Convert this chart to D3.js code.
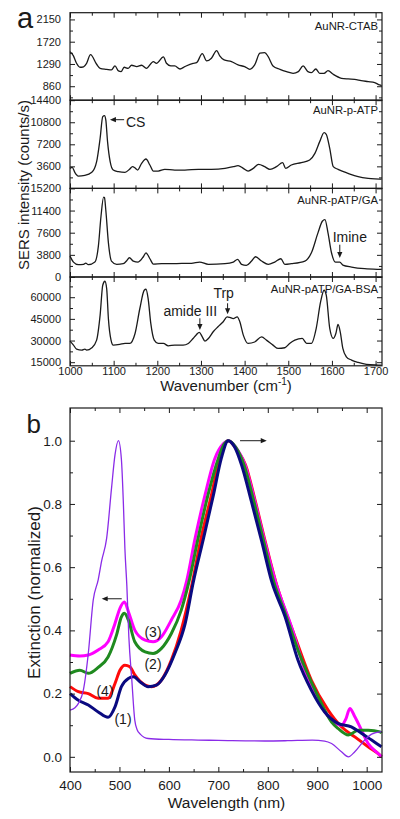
<!DOCTYPE html>
<html><head><meta charset="utf-8">
<script src="https://cdn.jsdelivr.net/npm/d3@7"></script>
<style>
html,body{margin:0;padding:0;background:#fff;}
svg{display:block;font-family:Arial,"Liberation Sans",sans-serif;}
</style></head><body>
<svg id="chart" width="400" height="819"></svg>
<script>
// ---------------- DATA ----------------
// Panel a: SERS spectra [wavenumber cm-1, intensity counts/s]
const spectraNames = ["AuNR-CTAB","AuNR-p-ATP","AuNR-pATP/GA","AuNR-pATP/GA-BSA"];
const wavenumberTicks = [1000,1100,1200,1300,1400,1500,1600,1700];

const ctab = [[1000,1528],[1007.6,1450],[1015,1303],[1023,1226],[1031,1236],[1038,1303],[1047,1470],[1061,1284],[1069,1206],[1084,1187],[1095,1174],[1103,1252],[1111,1155],[1117,1142],[1124,1226],[1133,1206],[1141,1265],[1153,1239],[1164,1265],[1175,1206],[1191,1335],[1198,1303],[1214,1426],[1221,1303],[1231,1252],[1240,1252],[1252,1193],[1263,1239],[1282,1303],[1290,1316],[1303,1490],[1313,1348],[1324,1400],[1336,1548],[1343,1445],[1353,1368],[1370,1335],[1385,1271],[1400,1239],[1412,1187],[1423,1271],[1435,1497],[1446,1510],[1454,1432],[1465,1252],[1481,1187],[1496,1142],[1511,1110],[1523,1142],[1534,1252],[1545,1142],[1553,1122],[1563,1193],[1572,1110],[1582,1110],[1591,1161],[1603,1090],[1622,1013],[1637,1000],[1652,994],[1667,968],[1683,949],[1698,930],[1709,884],[1714,870]];
const ctabTicks = [860,1290,1720,2150];

const pATP = [[1000,3273],[1005,3436],[1011,2618],[1019,2018],[1034,2127],[1050,2618],[1061,4364],[1069,8182],[1075,11727],[1079,11890],[1082,11182],[1086,7636],[1092,4364],[1099,3000],[1111,2727],[1126,2618],[1137,3164],[1143,3545],[1150,3273],[1155,3000],[1164,4091],[1174,4800],[1183,3818],[1191,2836],[1202,2836],[1217,3109],[1240,3000],[1263,3000],[1294,3109],[1324,3109],[1355,3273],[1374,3545],[1385,3709],[1397,3273],[1408,2836],[1420,3273],[1432,3927],[1446,3545],[1458,3109],[1473,3545],[1487,4200],[1494,3273],[1507,3818],[1530,4200],[1549,4636],[1561,5727],[1572,7636],[1582,9109],[1587,8836],[1595,6545],[1603,3545],[1614,3109],[1637,2455],[1660,1909],[1683,1636],[1709,1527],[1714,1500]];
const pATPTicks = [3600,7200,10800,14400];

const pATPGA = [[1000,3587],[1008,2562],[1019,2107],[1031,2164],[1036,2391],[1042,2107],[1057,2562],[1065,5294],[1071,10418],[1077,13714],[1079,13600],[1082,11500],[1088,5863],[1095,2733],[1107,2164],[1122,2278],[1130,2790],[1136,3302],[1145,2733],[1156,2562],[1168,3473],[1174,4156],[1183,3131],[1191,2221],[1210,2278],[1233,2278],[1256,2335],[1278,2335],[1297,2562],[1317,2164],[1355,2278],[1374,2562],[1384,3017],[1393,2164],[1404,1993],[1416,2733],[1425,3473],[1439,2733],[1454,2164],[1469,2562],[1483,3131],[1492,2164],[1507,2278],[1538,2733],[1553,4156],[1568,7568],[1578,9564],[1584,9848],[1591,7568],[1599,4156],[1608,2562],[1618,2562],[1625,2050],[1645,1708],[1675,1423],[1709,1310],[1714,1300]];
const pATPGATicks = [0,3800,7600,11400,15200];

const pATPGABSA = [[1000,29585],[1008,26820],[1015,24055],[1027,23364],[1034,24055],[1038,23364],[1050,25000],[1061,30276],[1069,47558],[1075,68295],[1080,71060],[1084,66000],[1088,45000],[1094,30276],[1099,26820],[1114,27290],[1126,28000],[1137,28000],[1149,34900],[1160,52189],[1170,64838],[1174,65530],[1179,59078],[1185,42000],[1193,30276],[1202,28000],[1214,28000],[1225,26359],[1240,26820],[1259,26820],[1271,28000],[1282,31428],[1290,34217],[1296,35600],[1303,32580],[1309,29585],[1317,31428],[1328,36070],[1339,39530],[1351,43000],[1360,46386],[1366,46000],[1374,45200],[1383,46386],[1389,43000],[1397,33760],[1408,28000],[1423,29000],[1439,32500],[1450,30276],[1465,26820],[1477,24500],[1492,25000],[1503,28000],[1515,30276],[1532,31428],[1542,28000],[1553,28000],[1564,38400],[1574,56750],[1582,64838],[1587,61380],[1595,38400],[1603,31428],[1609,34900],[1614,41128],[1619,36000],[1625,24500],[1633,18744],[1645,16440],[1660,14830],[1679,13450],[1706,13000],[1714,12900]];
const pATPGABSATicks = [15000,30000,45000,60000];

// Panel b: extinction spectra [wavelength nm, normalized extinction]
const wavelengthTicks = [400,500,600,700,800,900,1000];
const extinctionTicks = [0,0.2,0.4,0.6,0.8,1.0];

const violetSpec = [[400,0.148],[410,0.155],[417,0.169],[427,0.211],[437,0.327],[447,0.496],[457,0.56],[464,0.62],[474,0.69],[484,0.85],[491,0.955],[498,1.0],[504,0.94],[508,0.8],[511,0.66],[515,0.54],[519,0.38],[525,0.243],[531,0.116],[536,0.085],[542,0.072],[558,0.058],[600,0.055],[659,0.053],[700,0.052],[794,0.05],[840,0.051],[890,0.053],[915,0.05],[929,0.042],[949,0.016],[963,0.0],[976,0.016],[996,0.053],[1010,0.072],[1030,0.08]];
const spec3 = [[400,0.322],[420,0.319],[437,0.322],[457,0.338],[477,0.364],[491,0.422],[501,0.47],[510,0.49],[518,0.46],[531,0.401],[552,0.369],[568,0.364],[585,0.38],[605,0.433],[625,0.496],[636,0.557],[653,0.691],[673,0.828],[693,0.944],[710,0.99],[720,1.0],[735,0.98],[754,0.923],[774,0.807],[794,0.68],[816,0.552],[848,0.411],[875,0.274],[902,0.179],[929,0.116],[949,0.1],[958,0.12],[966,0.153],[975,0.13],[983,0.106],[1003,0.042],[1027,0.005],[1030,0.0]];
const spec2 = [[400,0.264],[420,0.274],[437,0.264],[457,0.283],[477,0.316],[494,0.385],[504,0.443],[510,0.454],[518,0.433],[531,0.364],[552,0.332],[568,0.327],[585,0.343],[605,0.39],[625,0.464],[640,0.55],[659,0.691],[679,0.828],[700,0.944],[712,0.99],[720,1.0],[735,0.98],[752,0.923],[772,0.807],[792,0.68],[812,0.554],[835,0.455],[861,0.338],[902,0.19],[929,0.11],[942,0.09],[963,0.069],[983,0.084],[1003,0.084],[1027,0.079],[1030,0.075]];
const spec4 = [[400,0.222],[417,0.206],[437,0.2],[457,0.185],[477,0.185],[491,0.232],[501,0.274],[511,0.29],[521,0.285],[531,0.259],[552,0.227],[565,0.222],[585,0.243],[605,0.306],[625,0.401],[646,0.54],[665,0.691],[686,0.828],[703,0.944],[720,1.0],[738,0.97],[755,0.923],[775,0.807],[795,0.68],[816,0.554],[855,0.38],[888,0.243],[922,0.148],[949,0.095],[976,0.063],[1003,0.032],[1027,0.005],[1030,0.0]];
const spec1 = [[400,0.2],[417,0.179],[437,0.164],[457,0.142],[477,0.125],[491,0.158],[504,0.222],[518,0.248],[528,0.253],[542,0.237],[558,0.222],[575,0.227],[592,0.259],[612,0.327],[633,0.422],[649,0.55],[670,0.691],[690,0.828],[706,0.944],[720,1.0],[733,0.98],[747,0.923],[767,0.807],[788,0.68],[808,0.554],[835,0.443],[861,0.306],[888,0.211],[915,0.142],[942,0.106],[969,0.095],[990,0.074],[1010,0.053],[1030,0.032]];

// ---------------- DRAW ----------------
const svg = d3.select("#chart");
const FONT = 'Arial,"Liberation Sans",sans-serif';
const ink = "#1a1a1a";

function arrow(g, x1, y1, x2, y2) {
  const a = Math.atan2(y2 - y1, x2 - x1), L = 6, w = 2.6;
  g.append("line").attr("x1", x1).attr("y1", y1)
    .attr("x2", x2 - L * 0.8 * Math.cos(a)).attr("y2", y2 - L * 0.8 * Math.sin(a))
    .attr("stroke", ink).attr("stroke-width", 1);
  const bx = x2 - L * Math.cos(a), by = y2 - L * Math.sin(a);
  g.append("path").attr("d",
    `M${x2},${y2}L${bx + w * Math.sin(a)},${by - w * Math.cos(a)}L${bx - w * Math.sin(a)},${by + w * Math.cos(a)}Z`)
    .attr("fill", ink);
}

function styleAxis(sel, fs) {
  sel.select(".domain").remove();
  sel.selectAll(".tick line").attr("stroke", ink).attr("stroke-width", 1);
  sel.selectAll(".tick text").attr("fill", ink).style("font-size", fs + "px").style("font-family", FONT);
}

function frame(g, x, y, o) {
  const [x0, x1] = x.range(), [yb, yt] = y.range();
  const mk = (axis, tr, vals, size, fmt, pad) => {
    const a = axis.tickValues(vals).tickSizeInner(size).tickSizeOuter(0).tickPadding(pad);
    a.tickFormat(fmt || (() => ""));
    const s = g.append("g").attr("transform", tr).call(a);
    styleAxis(s, o.fs);
    return s;
  };
  mk(d3.axisBottom(x), `translate(0,${yb})`, o.xt, -5, o.xLabels ? d3.format("d") : null, o.xPad);
  mk(d3.axisBottom(x), `translate(0,${yb})`, o.xm, -3, null, 0);
  mk(d3.axisTop(x), `translate(0,${yt})`, o.xt, -5, null, 0);
  mk(d3.axisTop(x), `translate(0,${yt})`, o.xm, -3, null, 0);
  mk(d3.axisLeft(y), `translate(${x0},0)`, o.yt, -5, o.yFmt, o.yPad);
  mk(d3.axisLeft(y), `translate(${x0},0)`, o.ym, -3, null, 0);
  mk(d3.axisRight(y), `translate(${x1},0)`, o.yt, -5, null, 0);
  mk(d3.axisRight(y), `translate(${x1},0)`, o.ym, -3, null, 0);
  g.append("rect").attr("x", x0).attr("y", yt).attr("width", x1 - x0).attr("height", yb - yt)
    .attr("fill", "none").attr("stroke", ink).attr("stroke-width", 1.2);
}

// ----- Panel a -----
const aEdges = [12.7, 100.2, 188.4, 277, 365.8];
const xA = d3.scaleLinear().domain([1000, 1714.7]).range([70, 382]);
const aSeries = [ctab, pATP, pATPGA, pATPGABSA];
const aTicks = [ctabTicks, pATPTicks, pATPGATicks, pATPGABSATicks];
const aDomains = [[590, 2280], [0, 14400], [0, 15200], [12500, 74000]];
const aMinorStep = [215, 1800, 1900, 7500];
const aScales = [];
const xMinorA = d3.range(1000, 1715, 50).filter(v => v % 100 !== 0);

aSeries.forEach((data, i) => {
  const y = d3.scaleLinear().domain(aDomains[i]).range([aEdges[i + 1], aEdges[i]]);
  aScales.push(y);
  const g = svg.append("g");
  const [d0, d1] = aDomains[i];
  const t0 = aTicks[i][0];
  const minor = d3.range(Math.ceil((d0 - t0) / aMinorStep[i]), Math.floor((d1 - t0) / aMinorStep[i]) + 1)
    .map(k => t0 + k * aMinorStep[i]).filter(v => !aTicks[i].includes(v) && v > d0 && v < d1);
  g.append("path").datum(data)
    .attr("d", d3.line().x(d => xA(d[0])).y(d => y(d[1])).curve(d3.curveMonotoneX))
    .attr("fill", "none").attr("stroke", ink).attr("stroke-width", 1.3);
  frame(g, xA, y, {
    xt: wavenumberTicks, xm: xMinorA, yt: aTicks[i], ym: minor,
    xLabels: i === 3, xPad: 1.6, yPad: 9, yFmt: d3.format("d"), fs: 11
  });
  g.append("text").attr("x", 378).attr("y", [30, 114, 204, 293][i])
    .attr("text-anchor", "end").style("font-size", "11.3px").attr("fill", ink).text(spectraNames[i]);
});

// panel a annotations (in data coordinates)
{
  const g = svg.append("g").style("font-size", "14px").attr("fill", ink);
  const y2 = aScales[1], y3 = aScales[2], y4 = aScales[3];
  g.append("text").attr("x", xA(1128)).attr("y", y2(10000)).text("CS");
  arrow(g, xA(1124), y2(11216), xA(1091.5), y2(11216));
  g.append("text").attr("x", xA(1641)).attr("y", y3(5919)).attr("text-anchor", "middle").text("Imine");
  arrow(g, xA(1618), y3(5541), xA(1618), y3(3260));
  g.append("text").attr("x", xA(1275.5)).attr("y", y4(47000)).attr("text-anchor", "middle").text("amide III");
  arrow(g, xA(1297.5), y4(45400), xA(1297.5), y4(37300));
  g.append("text").attr("x", xA(1352)).attr("y", y4(59450)).attr("text-anchor", "middle").text("Trp");
  arrow(g, xA(1361), y4(55800), xA(1361), y4(48170));
}

svg.append("text").attr("x", 17).attr("y", 28).style("font-size", "29px").attr("fill", ink).text("a");
{
  const t = svg.append("text").attr("x", 226).attr("y", 391).attr("text-anchor", "middle")
    .style("font-size", "15px").attr("fill", ink);
  t.append("tspan").text("Wavenumber (cm");
  t.append("tspan").attr("dy", -6).style("font-size", "10px").text("-1");
  t.append("tspan").attr("dy", 6).text(")");
}
svg.append("text").attr("transform", "translate(29,185) rotate(-90)").attr("text-anchor", "middle")
  .style("font-size", "15px").attr("fill", ink).text("SERS intensity (counts/s)");

// ----- Panel b -----
const xB = d3.scaleLinear().domain([400, 1031]).range([70, 382]);
const yB = d3.scaleLinear().domain([-0.048, 1.1035]).range([772, 408]);
{
  const g = svg.append("g");
  const line = d3.line().x(d => xB(d[0])).y(d => yB(d[1])).curve(d3.curveMonotoneX);
  const thick = [
    {d: spec4, c: "#ff0a0a"},
    {d: spec3, c: "#ff00ff"},
    {d: spec2, c: "#1f8a1f"},
    {d: spec1, c: "#0a0a80"}
  ];
  thick.forEach(s => g.append("path").datum(s.d).attr("d", line)
    .attr("fill", "none").attr("stroke", s.c).attr("stroke-width", 3).attr("stroke-linejoin", "round"));
  g.append("path").datum(violetSpec).attr("d", line)
    .attr("fill", "none").attr("stroke", "#8a2be8").attr("stroke-width", 1.3);
  frame(g, xB, yB, {
    xt: wavelengthTicks, xm: d3.range(450, 1031, 100), yt: extinctionTicks, ym: [0.1, 0.3, 0.5, 0.7, 0.9],
    xLabels: true, xPad: 8.6, yPad: 8, yFmt: d3.format(".1f"), fs: 13.5
  });
  const a = svg.append("g").style("font-size", "14px").attr("fill", ink).attr("text-anchor", "middle");
  a.append("text").attr("x", xB(567.9)).attr("y", yB(0.379)).text("(3)");
  a.append("text").attr("x", xB(567.9)).attr("y", yB(0.277)).text("(2)");
  a.append("text").attr("x", xB(470.8)).attr("y", yB(0.192)).text("(4)");
  a.append("text").attr("x", xB(507.2)).attr("y", yB(0.104)).text("(1)");
  arrow(a, xB(504.6), yB(0.5), xB(464.1), yB(0.5));
  arrow(a, xB(743.9), yB(1.0), xB(797.9), yB(1.0));
}
svg.append("text").attr("x", 26.5).attr("y", 433).style("font-size", "26px").attr("fill", ink).text("b");
svg.append("text").attr("x", 226.5).attr("y", 808).attr("text-anchor", "middle")
  .style("font-size", "15.5px").attr("fill", ink).text("Wavelength (nm)");
svg.append("text").attr("transform", "translate(40,592.5) rotate(-90)").attr("text-anchor", "middle")
  .style("font-size", "17px").attr("fill", ink).text("Extinction (normalized)");
</script>
</body></html>
